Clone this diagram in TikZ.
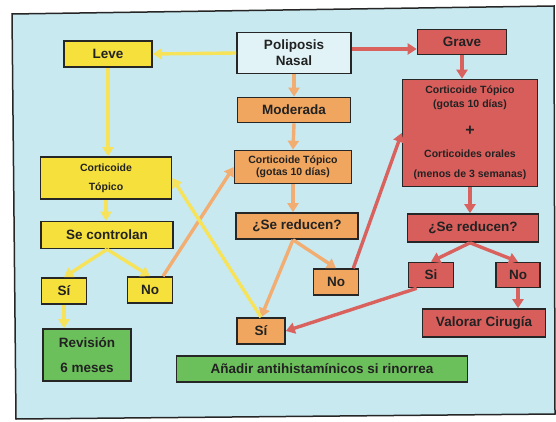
\documentclass[tikz,border=0pt]{standalone}
\usepackage{fontspec}
\setmainfont{Liberation Sans}
\usetikzlibrary{arrows.meta}
\definecolor{fondo}{HTML}{C9E9F1}
\definecolor{amarillo}{HTML}{F6E03C}
\definecolor{flechaam}{HTML}{F7E35A}
\definecolor{naranja}{HTML}{F0A65E}
\definecolor{flechana}{HTML}{F2AD72}
\definecolor{rojo}{HTML}{D85E5C}
\definecolor{flecharo}{HTML}{D9625F}
\definecolor{verde}{HTML}{6CC05B}
\definecolor{borde}{HTML}{262626}
\definecolor{texto}{HTML}{222222}
\begin{document}
\begin{tikzpicture}[x=1pt,y=-1pt,
    caja/.style={draw=borde,line width=1.6pt,inner sep=0pt,align=center,text=texto,
      font=\bfseries\fontsize{13.5}{16}\selectfont},
    chica/.style={caja,font=\bfseries\fontsize{10.5}{12}\selectfont},
    flecha/.style={line width=3.4pt,-{Triangle[width=11pt,length=9pt]}},
    flam/.style={flecha,flechaam},
    flna/.style={flecha,flechana},
    flro/.style={flecha,flecharo}]
                \useasboundingbox (0,0) rectangle (556,422);
                \draw [borde,line width=1.5pt,fill=fondo] (12,14) -- (554,6) -- (555,414) -- (16,419) -- cycle;
                % top row
                \node [caja,fill=fondo!55!white,minimum width=114pt,minimum height=41pt] (poliposis) at (294,53) {Poliposis\\Nasal};
                \node [caja,fill=amarillo,minimum width=88pt,minimum height=26pt] (leve) at (108,54) {Leve};
                \node [caja,fill=rojo,minimum width=89pt,minimum height=25pt] (grave) at (462,42) {Grave};
                % moderada
                \node [caja,fill=naranja,minimum width=113pt,minimum height=25pt] (moderada) at (294,110) {Moderada};
                \node [chica,fill=naranja,minimum width=117pt,minimum height=33pt] (ctopmod) at (293,167) {Corticoide Tópico\\(gotas 10 días)};
                \node [caja,fill=naranja,minimum width=122pt,minimum height=26pt] (redmod) at (297,226) {¿Se reducen?};
                \node [caja,fill=naranja,minimum width=45pt,minimum height=26pt] (nomod) at (336,282) {No};
                \node [caja,fill=naranja,minimum width=48pt,minimum height=26pt] (simod) at (261,331) {Sí};
                % grave
                \node [chica,fill=rojo,minimum width=135pt,minimum height=107pt,font=\bfseries\fontsize{10.5}{14}\selectfont] (ctopgrave) at (470,133)
                  {Corticoide Tópico\\(gotas 10 días)\\[14pt]{\fontsize{16}{16}\selectfont +}\\[8pt]Corticoides orales\\[6pt](menos de 3 semanas)};
                \node [caja,fill=rojo,minimum width=131pt,minimum height=28pt] (redgrave) at (473,228) {¿Se reducen?};
                \node [caja,fill=rojo,minimum width=45pt,minimum height=25pt] (sigrave) at (431,275) {Si};
                \node [caja,fill=rojo,minimum width=44pt,minimum height=25pt] (nograve) at (518,275) {No};
                \node [caja,fill=rojo,minimum width=123pt,minimum height=28pt] (cirugia) at (484,323) {Valorar Cirugía};
                % leve
                \node [caja,fill=amarillo,minimum width=131pt,minimum height=42pt,font=\bfseries\fontsize{10.5}{15}\selectfont] (ctopleve) at (106,178) {Corticoide\\[4pt]Tópico};
                \node [caja,fill=amarillo,minimum width=132pt,minimum height=27pt] (control) at (107,235) {Se controlan};
                \node [caja,fill=amarillo,minimum width=45pt,minimum height=26pt] (sileve) at (64,291) {Sí};
                \node [caja,fill=amarillo,minimum width=45pt,minimum height=26pt] (noleve) at (150,290) {No};
                \node [caja,fill=verde,minimum width=88pt,minimum height=52pt,font=\bfseries\fontsize{13.5}{16}\selectfont] (revision) at (87,355) {Revisión\\[9pt]6 meses};
                \node [caja,fill=verde,minimum width=291pt,minimum height=26pt] (antihist) at (322,369) {Añadir antihistamínicos si rinorrea};
                % arrows
                \coordinate (gravein) at ([yshift=-7pt]grave.west);
                \draw [flam] (poliposis.west) -- (leve.east);
                \draw [flro] (poliposis.east |- gravein) -- (gravein);
                \draw [flna] (poliposis.south) -- (moderada.north);
                \draw [flna] (moderada.south) -- (ctopmod.south |- ctopmod.north);
                \draw [flna] (ctopmod.south) -- (ctopmod.south |- redmod.north);
                \draw [flna] ([xshift=-4pt]redmod.south) -- (nomod.north);
                \draw [flna] ([xshift=-4pt]redmod.south) -- (simod.north);
                \draw [flro] ([xshift=-6pt]nomod.north east) -- (ctopgrave.west);
                \draw [flro] (grave.south) -- (grave.south |- ctopgrave.north);
                \draw [flro] (ctopgrave.south) -- (ctopgrave.south |- redgrave.north);
                \draw [flro] ([xshift=-3pt]redgrave.south) -- (sigrave.north);
                \draw [flro] ([xshift=-3pt]redgrave.south) -- (nograve.north);
                \draw [flro] (nograve.south) -- (nograve.south |- cirugia.north);
                \draw [flro] ([xshift=9pt]sigrave.south west) -- (simod.east);
                \draw [flam] (leve.south) -- (leve.south |- ctopleve.north);
                \draw [flam] (ctopleve.south) -- (ctopleve.south |- control.north);
                \draw [flam] (control.south) -- (sileve.north);
                \draw [flam] (control.south) -- (noleve.north);
                \draw [flam] (sileve.south) -- (sileve.south |- revision.north);
                \draw [flna] ([xshift=13pt]noleve.north) -- (ctopmod.west);
                \draw [flam] (simod.north) -- (ctopleve.east);
\end{tikzpicture}
\end{document}
